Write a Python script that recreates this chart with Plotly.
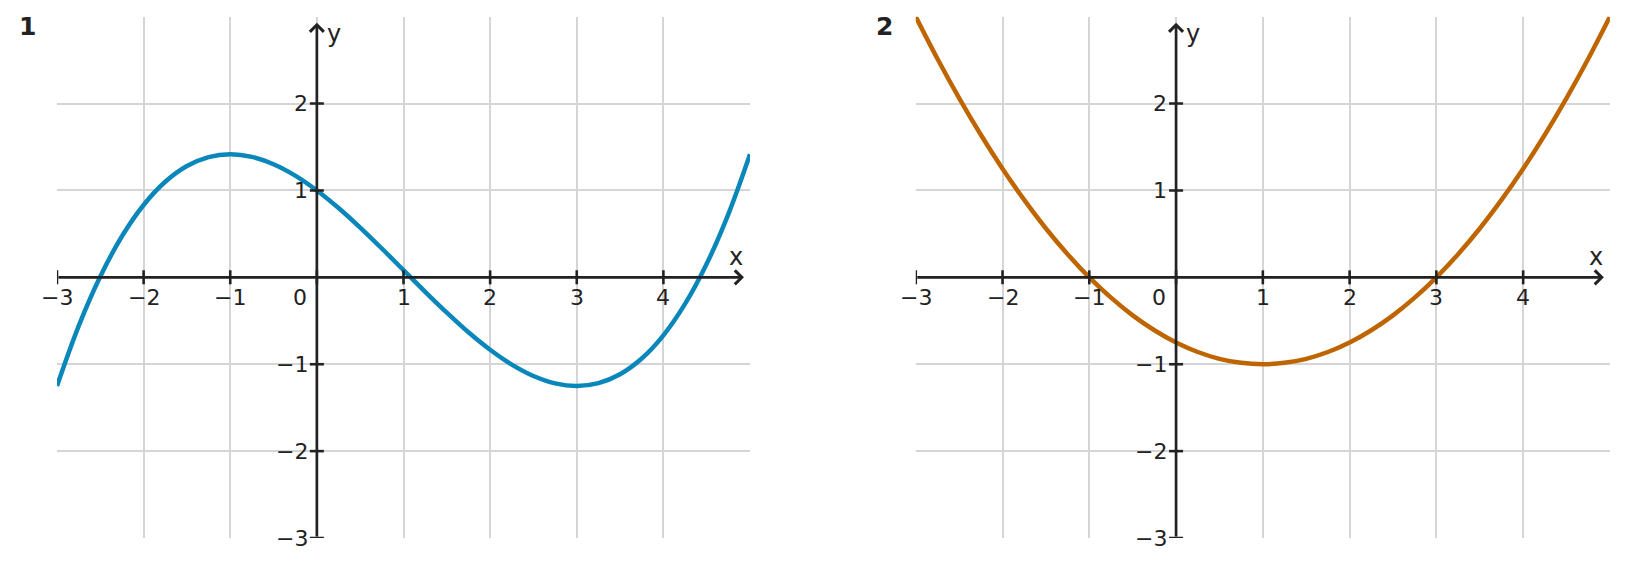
import plotly.graph_objects as go

# ---------------- data ----------------
x_vals = [-3, -2.75, -2.5, -2.25, -2, -1.75, -1.5, -1.25, -1, -0.75, -0.5, -0.25,
          0, 0.25, 0.5, 0.75, 1, 1.25, 1.5, 1.75, 2, 2.25, 2.5, 2.75,
          3, 3.25, 3.5, 3.75, 4, 4.25, 4.5, 4.75, 5]
cubic_y = [-1.25, -0.561, 0.010, 0.473, 0.833, 1.100, 1.281, 1.384, 1.417, 1.387, 1.302, 1.171,
           1.0, 0.798, 0.573, 0.332, 0.083, -0.166, -0.406, -0.632, -0.833, -1.004, -1.135, -1.220,
           -1.25, -1.217, -1.115, -0.934, -0.667, -0.306, 0.156, 0.728, 1.417]
parab_y = [3.0, 2.516, 2.0625, 1.641, 1.25, 0.891, 0.5625, 0.266, 0.0, -0.234, -0.4375, -0.609,
           -0.75, -0.859, -0.9375, -0.984, -1.0, -0.984, -0.9375, -0.859, -0.75, -0.609, -0.4375, -0.234,
           0.0, 0.266, 0.5625, 0.891, 1.25, 1.641, 2.0625, 2.516, 3.0]

x_ticks = [-3, -2, -1, 0, 1, 2, 3, 4]
y_ticks = [-3, -2, -1, 1, 2]
x_tick_labels = ["−3", "−2", "−1", "", "1", "2", "3", "4"]
y_tick_labels = ["−3", "−2", "−1", "1", "2"]
x_range = [-3, 5]
y_range = [-3, 3]
panel_titles = ["1", "2"]
curve_colors = ["#0a87ba", "#bf6500"]

AX = "#222222"
GRID = "#d5d5d5"
FONT = "DejaVu Sans"
TICK_FS = 22

fig = go.Figure()

panels = [
    dict(xa="x", ya="y", xd=[0.035, 0.4607], y=cubic_y, title_x=0.0166),
    dict(xa="x2", ya="y2", xd=[0.5625, 0.9889], y=parab_y, title_x=0.5436),
]

annotations = []
for i, p in enumerate(panels):
    xa, ya = p["xa"], p["ya"]
    # curve
    fig.add_trace(go.Scatter(x=x_vals, y=p["y"], mode="lines", xaxis=xa, yaxis=ya,
                             line=dict(color=curve_colors[i], width=4.5, shape="spline"),
                             hoverinfo="skip", showlegend=False))
    # x ticks
    fig.add_trace(go.Scatter(x=x_ticks, y=[0] * len(x_ticks), mode="markers", xaxis=xa, yaxis=ya,
                             marker=dict(symbol="line-ns", size=10, line=dict(color=AX, width=2.6)),
                             hoverinfo="skip", showlegend=False))
    # y ticks
    fig.add_trace(go.Scatter(x=[0] * len(y_ticks), y=y_ticks, mode="markers", xaxis=xa, yaxis=ya,
                             marker=dict(symbol="line-ew", size=10, line=dict(color=AX, width=2.6)),
                             hoverinfo="skip", showlegend=False))
    # axis arrows
    annotations.append(dict(xref=xa, yref=ya, axref=xa, ayref=ya, x=4.93, y=0, ax=x_range[0], ay=0,
                            text="", showarrow=True, arrowhead=4, arrowsize=1.0, arrowwidth=2.7,
                            arrowcolor=AX, standoff=0, startstandoff=0))
    annotations.append(dict(xref=xa, yref=ya, axref=xa, ayref=ya, x=0, y=2.93, ax=0, ay=y_range[0],
                            text="", showarrow=True, arrowhead=4, arrowsize=1.0, arrowwidth=2.7,
                            arrowcolor=AX, standoff=0, startstandoff=0))
    # tick labels
    for xv, lab in zip(x_ticks, x_tick_labels):
        if lab:
            annotations.append(dict(xref=xa, yref=ya, x=xv, y=0, text=lab, showarrow=False,
                                    xanchor="center", yanchor="middle", yshift=-20,
                                    font=dict(family=FONT, size=TICK_FS, color=AX)))
    for yv, lab in zip(y_ticks, y_tick_labels):
        annotations.append(dict(xref=xa, yref=ya, x=0, y=yv, text=lab, showarrow=False,
                                xanchor="right", yanchor="middle", xshift=-7,
                                font=dict(family=FONT, size=TICK_FS, color=AX)))
    annotations.append(dict(xref=xa, yref=ya, x=0, y=0, text="0", showarrow=False,
                            xanchor="center", yanchor="middle", xshift=-17, yshift=-20,
                            font=dict(family=FONT, size=TICK_FS, color=AX)))
    # axis names
    annotations.append(dict(xref=xa, yref=ya, x=4.84, y=0.23, text="x", showarrow=False,
                            xanchor="center", yanchor="middle",
                            font=dict(family=FONT, size=24, color=AX)))
    annotations.append(dict(xref=xa, yref=ya, x=0.2, y=2.8, text="y", showarrow=False,
                            xanchor="center", yanchor="middle",
                            font=dict(family=FONT, size=24, color=AX)))
    # panel number
    annotations.append(dict(xref="paper", yref="paper", x=p["title_x"], y=0.953,
                            text="<b>" + panel_titles[i] + "</b>", showarrow=False,
                            xanchor="center", yanchor="middle",
                            font=dict(family=FONT, size=25, color=AX)))

axis_common = dict(showline=False, zeroline=False, showticklabels=False, ticks="",
                   gridcolor=GRID, gridwidth=1.7, fixedrange=True)
fig.update_layout(
    width=1628, height=567,
    margin=dict(l=0, r=0, t=0, b=0),
    paper_bgcolor="white", plot_bgcolor="white",
    font=dict(family=FONT, color=AX),
    xaxis=dict(domain=panels[0]["xd"], range=x_range, tickvals=x_ticks, anchor="y", **axis_common),
    yaxis=dict(domain=[0.0511, 0.9706], range=y_range, tickvals=y_ticks, anchor="x", **axis_common),
    xaxis2=dict(domain=panels[1]["xd"], range=x_range, tickvals=x_ticks, anchor="y2", **axis_common),
    yaxis2=dict(domain=[0.0511, 0.9706], range=y_range, tickvals=y_ticks, anchor="x2", **axis_common),
    annotations=annotations,
    showlegend=False,
)

fig.write_html("out.html")
